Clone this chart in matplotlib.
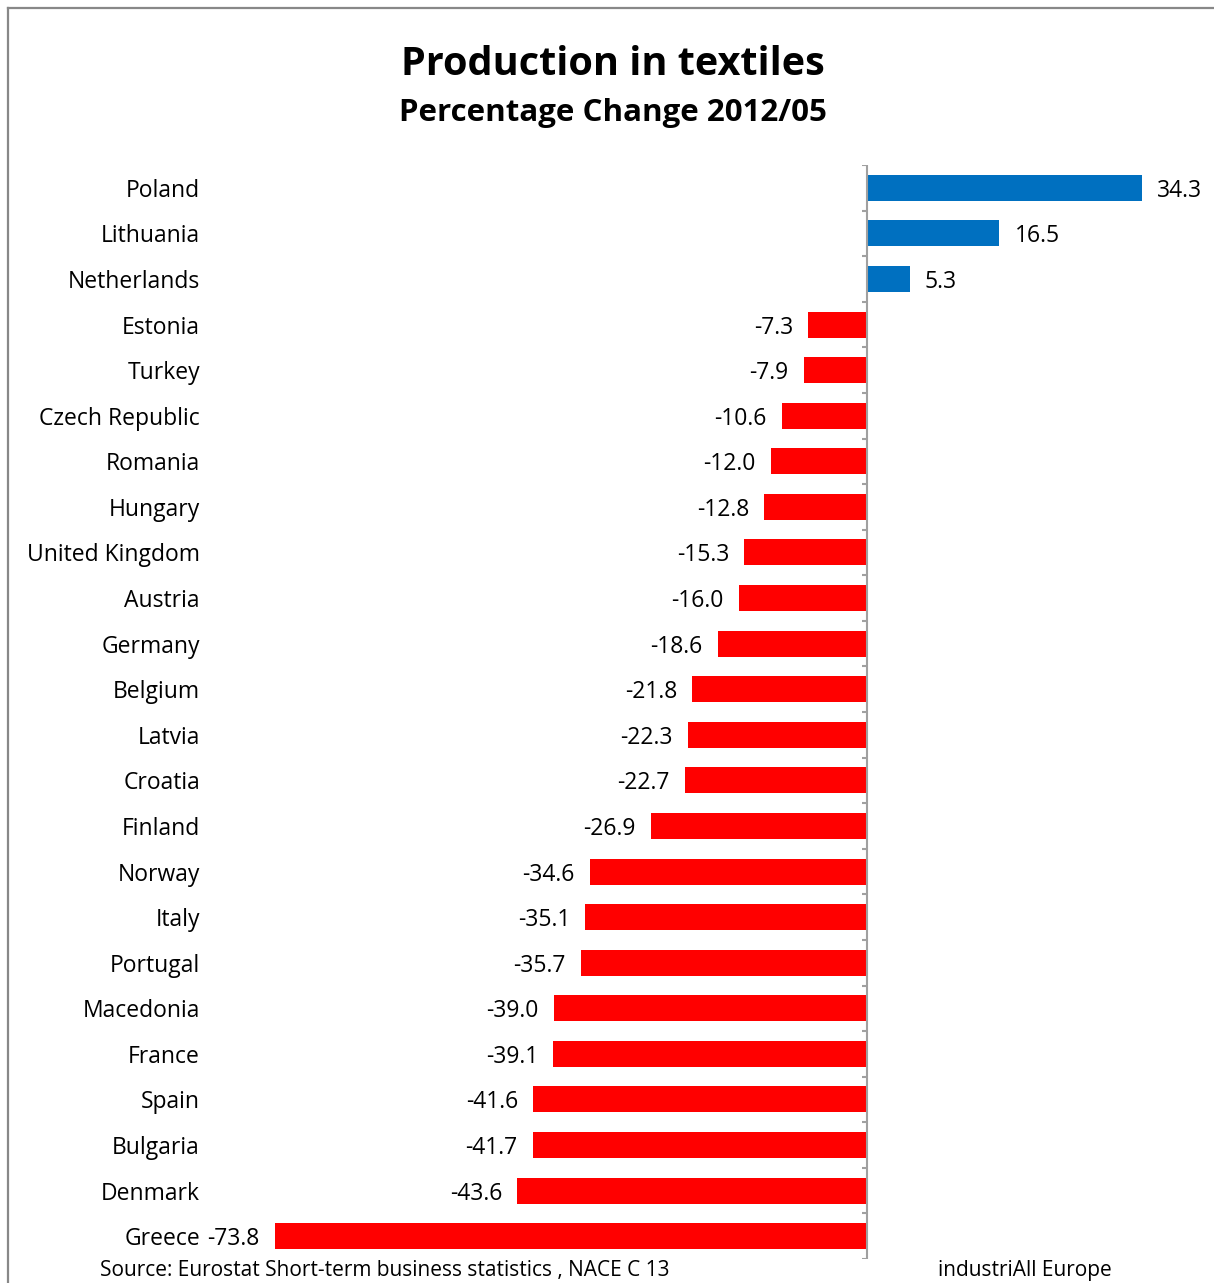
import numpy as np
import matplotlib
matplotlib.use("Agg")
import matplotlib.pyplot as plt
from matplotlib.lines import Line2D
from matplotlib.transforms import blended_transform_factory

plt.rcParams['font.family'] = ['Open Sans', 'DejaVu Sans']

# Production in textiles, % change 2012/05
countries = ["Poland", "Lithuania", "Netherlands", "Estonia", "Turkey",
             "Czech Republic", "Romania", "Hungary", "United Kingdom", "Austria",
             "Germany", "Belgium", "Latvia", "Croatia", "Finland", "Norway",
             "Italy", "Portugal", "Macedonia", "France", "Spain", "Bulgaria",
             "Denmark", "Greece"]
changes = [34.3, 16.5, 5.3, -7.3, -7.9, -10.6, -12.0, -12.8, -15.3, -16.0,
           -18.6, -21.8, -22.3, -22.7, -26.9, -34.6, -35.1, -35.7, -39.0,
           -39.1, -41.6, -41.7, -43.6, -73.8]

W, H = 1214, 1283
fig = plt.figure(figsize=(W / 100, H / 100), dpi=100)

# axes placed in pixel terms: zero line at x=867, 8.02 px per unit
x_lo, x_hi = -80, 40
scale = 8.02
left_px = 867 + x_lo * scale
ax = fig.add_axes([left_px / W, 1 - 1259 / H, (x_hi - x_lo) * scale / W, (1259 - 165) / H])

y = np.arange(len(countries))
colors = ["#0070C0" if v > 0 else "#FF0000" for v in changes]
ax.barh(y, changes, height=0.57, color=colors, zorder=2)

ax.set_xlim(x_lo, x_hi)
ax.set_ylim(len(countries) - 0.5, -0.5)

for s in ["top", "right", "bottom", "left"]:
    ax.spines[s].set_visible(False)
ax.set_xticks([])
ax.set_yticks([])

# category axis at zero with boundary ticks
ax.axvline(0, color="#a0a0a0", lw=1.5, zorder=3)
tick_len = 5 / scale
for b in np.arange(-0.5, len(countries), 1.0):
    ax.plot([-tick_len, 0], [b, b], color="#a0a0a0", lw=1.5, zorder=3,
            solid_capstyle="butt")

# value labels
for yi, v in zip(y, changes):
    if v > 0:
        ax.annotate(f"{v:.1f}", (v, yi), xytext=(11, 0), textcoords="offset points",
                    ha="left", va="center_baseline", fontsize=16.5)
    else:
        ax.annotate(f"{v:.1f}", (v, yi), xytext=(-11, 0), textcoords="offset points",
                    ha="right", va="center_baseline", fontsize=16.5)

# country names
trans = blended_transform_factory(fig.transFigure, ax.transData)
for yi, name in zip(y, countries):
    ax.text(200 / W, yi, name, transform=trans, ha="right", va="center_baseline",
            fontsize=16.5, clip_on=False)

fig.text(613 / W, 1 - 60 / H, "Production in textiles", ha="center", va="center_baseline",
         fontsize=28.5, fontweight="bold")
fig.text(613 / W, 1 - 110 / H, "Percentage Change 2012/05", ha="center", va="center_baseline",
         fontsize=22.5, fontweight="bold")

fig.text(100 / W, 1 - 1268 / H, "Source: Eurostat Short-term business statistics , NACE C 13",
         ha="left", va="center_baseline", fontsize=15)
fig.text(938 / W, 1 - 1268 / H, "industriAll Europe", ha="left", va="center_baseline",
         fontsize=15)

# chart frame
fig.add_artist(Line2D([8 / W, 8 / W], [0, 1 - 8 / H], color="#888888", lw=1.6,
                      transform=fig.transFigure))
fig.add_artist(Line2D([8 / W, 1213 / W], [1 - 8 / H, 1 - 8 / H], color="#888888", lw=1.6,
                      transform=fig.transFigure))

fig.savefig("out.png", dpi=100)
